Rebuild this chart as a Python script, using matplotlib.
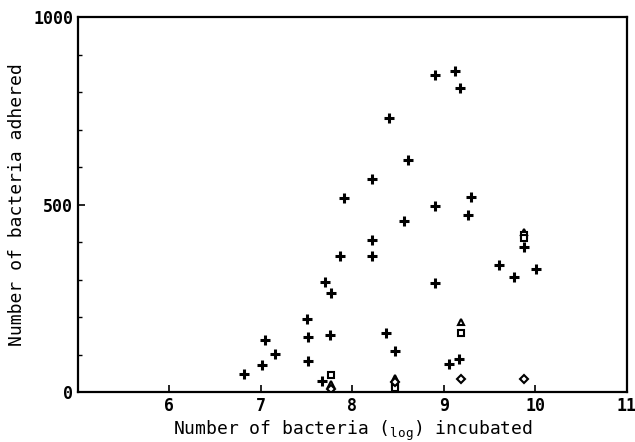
import matplotlib
matplotlib.use("Agg")
import matplotlib.pyplot as plt
from matplotlib.ticker import MultipleLocator

plus_x = [6.81, 7.01, 7.04, 7.15, 7.50, 7.51, 7.51, 7.67, 7.70, 7.77, 7.75, 7.86, 7.91,
          8.21, 8.21, 8.21, 8.37, 8.40, 8.46, 8.56, 8.61, 8.90, 8.90, 8.90, 9.05, 9.12,
          9.16, 9.17, 9.26, 9.30, 9.60, 9.77, 9.87, 10.01]
plus_y = [47, 72, 140, 101, 194, 148, 83, 29, 294, 265, 153, 363, 517,
          567, 405, 363, 158, 732, 110, 457, 618, 846, 497, 290, 75, 857,
          87, 810, 472, 521, 340, 308, 388, 327]

tri_x = [7.77, 8.47, 9.19, 9.87]
tri_y = [22, 38, 188, 428]

sq_x = [7.77, 8.47, 8.47, 9.19, 9.87, 9.87]
sq_y = [45, 20, 12, 158, 418, 412]

dia_x = [7.77, 8.47, 9.19, 9.87]
dia_y = [8, 28, 36, 36]

x_ticks = [6, 7, 8, 9, 10, 11]
y_ticks = [0, 500, 1000]

plt.rcParams['font.family'] = ['DejaVu Sans Mono']
plt.rcParams['mathtext.fontset'] = 'custom'
plt.rcParams['mathtext.rm'] = 'DejaVu Sans Mono'

fig = plt.figure(figsize=(6.35, 4.42), dpi=100)
ax = fig.add_axes([0.1228, 0.1131, 0.8646, 0.8484])

ax.plot(plus_x, plus_y, linestyle='none', marker='+', color='black', ms=6.5, mew=2.2)
ax.plot(tri_x, tri_y, linestyle='none', marker='^', mfc='white', mec='black', ms=5, mew=1.5)
ax.plot(sq_x, sq_y, linestyle='none', marker='s', mfc='white', mec='black', ms=5, mew=1.5)
ax.plot(dia_x, dia_y, linestyle='none', marker='D', mfc='white', mec='black', ms=4, mew=1.5)

ax.set_xlim(5, 11)
ax.set_ylim(0, 1000)
ax.set_xticks(x_ticks)
ax.set_yticks(y_ticks)
ax.yaxis.set_minor_locator(MultipleLocator(100))
ax.tick_params(axis='both', which='major', direction='in', length=5, width=1.2,
               labelsize=12, colors='black')
ax.tick_params(axis='y', which='minor', direction='in', length=3, width=1.0)
for lab in ax.get_xticklabels() + ax.get_yticklabels():
    lab.set_fontweight('bold')
for s in ax.spines.values():
    s.set_linewidth(1.6)

ax.set_xlabel(r'Number of bacteria ($_{\mathrm{log}}$) incubated', fontsize=13, labelpad=3)
ax.set_ylabel('Number of bacteria adhered', fontsize=13, labelpad=5)

fig.savefig('out.png', dpi=100)
